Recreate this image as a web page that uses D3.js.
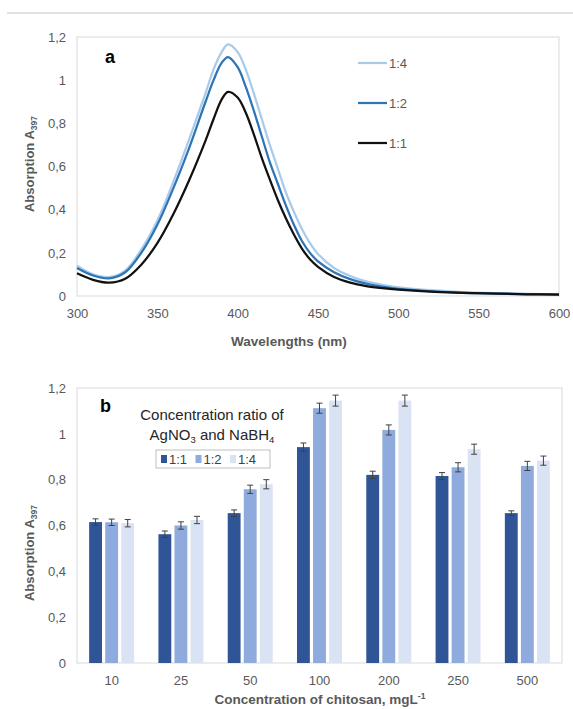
<!DOCTYPE html>
<html>
<head>
<meta charset="utf-8">
<script src="https://cdn.jsdelivr.net/npm/d3@7"></script>
<style>
  body { margin: 0; background: #fff; }
  text { font-family: "Liberation Sans", Arial, sans-serif; }
</style>
</head>
<body>
<div class="chart"></div>
<script>
// ---- data, panel a (spectra) ----
var wavelengths = [300, 310, 320, 330, 340, 350, 360, 370, 380, 385, 390, 394, 400, 405, 410, 415, 420, 425, 430, 435, 440, 445, 450, 460, 470, 480, 490, 500, 520, 540, 560, 580, 600];
var spec14 = [0.14, 0.1, 0.088, 0.118, 0.215, 0.35, 0.53, 0.73, 0.94, 1.05, 1.13, 1.166, 1.13, 1.05, 0.94, 0.82, 0.70, 0.59, 0.48, 0.39, 0.31, 0.245, 0.195, 0.13, 0.093, 0.068, 0.052, 0.04, 0.027, 0.018, 0.013, 0.01, 0.008];
var spec12 = [0.13, 0.095, 0.082, 0.11, 0.2, 0.33, 0.5, 0.69, 0.9, 1.0, 1.08, 1.107, 1.06, 0.97, 0.86, 0.74, 0.62, 0.52, 0.42, 0.33, 0.255, 0.2, 0.16, 0.11, 0.078, 0.057, 0.043, 0.033, 0.022, 0.015, 0.012, 0.009, 0.007];
var spec11 = [0.105, 0.075, 0.062, 0.08, 0.145, 0.245, 0.38, 0.54, 0.72, 0.82, 0.91, 0.946, 0.92, 0.85, 0.75, 0.64, 0.54, 0.445, 0.36, 0.285, 0.22, 0.17, 0.135, 0.088, 0.062, 0.046, 0.036, 0.029, 0.02, 0.015, 0.011, 0.008, 0.006];
var xTicksA = [300, 350, 400, 450, 500, 550, 600];

// ---- data, panel b (bars) ----
var concentrations = ["10", "25", "50", "100", "200", "250", "500"];
var ratios = ["1:1", "1:2", "1:4"];
var bar11 = [0.615, 0.562, 0.654, 0.942, 0.821, 0.816, 0.654];
var bar12 = [0.614, 0.600, 0.758, 1.112, 1.017, 0.854, 0.860];
var bar14 = [0.610, 0.624, 0.780, 1.145, 1.145, 0.933, 0.883];
var err11 = [0.014, 0.014, 0.014, 0.018, 0.016, 0.015, 0.010];
var err12 = [0.014, 0.016, 0.018, 0.022, 0.022, 0.020, 0.020];
var err14 = [0.016, 0.016, 0.020, 0.024, 0.024, 0.022, 0.020];
var yTicks = [0, 0.2, 0.4, 0.6, 0.8, 1, 1.2];

var svgWidth = 573;
var svgHeight = 709;

var svg = d3.select(".chart")
  .append("svg")
  .attr("width", svgWidth)
  .attr("height", svgHeight);

var tickColor = "#595959";
var frameColor = "#d9d9d9";
var fmt = d => String(+d.toFixed(1)).replace(".", ",");

// top separator
svg.append("line")
  .attr("x1", 7).attr("x2", 573)
  .attr("y1", 13).attr("y2", 13)
  .attr("stroke", "#d9d9d9")
  .attr("stroke-width", 1.5);

function styleAxis(g) {
  g.select(".domain").remove();
  g.selectAll("text")
    .attr("fill", tickColor)
    .style("font-size", "13px")
    .style("font-family", "'Liberation Sans', Arial, sans-serif");
}

// ================= panel a =================
var a = { left: 77, right: 559, top: 37, bottom: 296 };

var xA = d3.scaleLinear().domain([300, 600]).range([a.left, a.right]);
var yA = d3.scaleLinear().domain([0, 1.2]).range([a.bottom, a.top]);

svg.append("rect")
  .attr("x", a.left).attr("y", a.top)
  .attr("width", a.right - a.left).attr("height", a.bottom - a.top)
  .attr("fill", "none").attr("stroke", frameColor).attr("stroke-width", 1);

svg.append("g")
  .attr("transform", `translate(0, ${a.bottom})`)
  .call(d3.axisBottom(xA).tickValues(xTicksA).tickSize(0).tickPadding(13))
  .call(styleAxis);

svg.append("g")
  .attr("transform", `translate(${a.left}, 0)`)
  .call(d3.axisLeft(yA).tickValues(yTicks).tickFormat(fmt).tickSize(0).tickPadding(11))
  .call(styleAxis);

var specSeries = [
  { name: "1:4", values: spec14, color: "#a9cbea" },
  { name: "1:2", values: spec12, color: "#2e75b6" },
  { name: "1:1", values: spec11, color: "#111111" }
];

var line = d3.line()
  .x((d, i) => xA(wavelengths[i]))
  .y(d => yA(d))
  .curve(d3.curveCatmullRom.alpha(0.5));

// draw back to front: 1:4 under, black on top
specSeries.forEach(function(s) {
  svg.append("path")
    .datum(s.values)
    .attr("fill", "none")
    .attr("stroke", s.color)
    .attr("stroke-width", 2.25)
    .attr("d", line);
});

// legend a
specSeries.forEach(function(s, i) {
  var ly = 63 + i * 40;
  svg.append("line")
    .attr("x1", 358).attr("x2", 387)
    .attr("y1", ly).attr("y2", ly)
    .attr("stroke", s.color).attr("stroke-width", 2.25);
  svg.append("text")
    .attr("x", 389).attr("y", ly + 4.5)
    .attr("fill", tickColor)
    .style("font-size", "13px")
    .text(s.name);
});

svg.append("text")
  .attr("x", 105).attr("y", 63)
  .style("font-size", "18px").style("font-weight", "bold")
  .attr("fill", "#000")
  .text("a");

svg.append("text")
  .attr("x", 289).attr("y", 346)
  .attr("text-anchor", "middle")
  .attr("fill", tickColor)
  .style("font-size", "13.5px").style("font-weight", "bold")
  .text("Wavelengths (nm)");

function yLabel(cx, cy) {
  var t = svg.append("text")
    .attr("transform", `translate(${cx}, ${cy}) rotate(-90)`)
    .attr("text-anchor", "middle")
    .attr("fill", tickColor)
    .style("font-size", "13px").style("font-weight", "bold");
  t.append("tspan").text("Absorption A");
  t.append("tspan").attr("dy", 3).style("font-size", "8.5px").text("397");
}
yLabel(34, 164);

// ================= panel b =================
var b = { left: 77, right: 562, top: 388, bottom: 663 };

var x0 = d3.scaleBand().domain(concentrations).range([b.left, b.right]).paddingInner(0).paddingOuter(0);
var x1 = d3.scaleBand().domain(ratios).range([-22.5, 22.5]).paddingInner(0.2);
var yB = d3.scaleLinear().domain([0, 1.2]).range([b.bottom, b.top]);

svg.append("rect")
  .attr("x", b.left).attr("y", b.top)
  .attr("width", b.right - b.left).attr("height", b.bottom - b.top)
  .attr("fill", "none").attr("stroke", frameColor).attr("stroke-width", 1);

svg.append("g")
  .attr("transform", `translate(0, ${b.bottom})`)
  .call(d3.axisBottom(x0).tickSize(0).tickPadding(13))
  .call(styleAxis);

svg.append("g")
  .attr("transform", `translate(${b.left}, 0)`)
  .call(d3.axisLeft(yB).tickValues(yTicks).tickFormat(fmt).tickSize(0).tickPadding(11))
  .call(styleAxis);

var barSeries = [
  { name: "1:1", values: bar11, err: err11, color: "#2f5597" },
  { name: "1:2", values: bar12, err: err12, color: "#8faadc" },
  { name: "1:4", values: bar14, err: err14, color: "#dae3f3" }
];

barSeries.forEach(function(s) {
  var g = svg.append("g");
  var rows = concentrations.map((c, i) => ({ c: c, v: s.values[i], e: s.err[i] }));
  var cx = d => x0(d.c) + x0.bandwidth() / 2 + x1(s.name) + x1.bandwidth() / 2;

  g.selectAll("rect")
    .data(rows)
    .enter()
    .append("rect")
    .attr("x", d => cx(d) - x1.bandwidth() / 2)
    .attr("y", d => yB(d.v))
    .attr("width", x1.bandwidth())
    .attr("height", d => b.bottom - yB(d.v))
    .attr("fill", s.color);

  var eb = g.selectAll("g.err")
    .data(rows)
    .enter()
    .append("g")
    .attr("stroke", "#404040")
    .attr("stroke-width", 1);
  eb.append("line")
    .attr("x1", cx).attr("x2", cx)
    .attr("y1", d => yB(d.v + d.e)).attr("y2", d => yB(d.v - d.e));
  eb.append("line")
    .attr("x1", d => cx(d) - 3).attr("x2", d => cx(d) + 3)
    .attr("y1", d => yB(d.v + d.e)).attr("y2", d => yB(d.v + d.e));
  eb.append("line")
    .attr("x1", d => cx(d) - 3).attr("x2", d => cx(d) + 3)
    .attr("y1", d => yB(d.v - d.e)).attr("y2", d => yB(d.v - d.e));
});

svg.append("text")
  .attr("x", 100).attr("y", 412)
  .style("font-size", "18px").style("font-weight", "bold")
  .attr("fill", "#000")
  .text("b");

// legend b
svg.append("text")
  .attr("x", 212).attr("y", 420)
  .attr("text-anchor", "middle")
  .attr("fill", "#262626")
  .style("font-size", "15px")
  .text("Concentration ratio of");

var t2 = svg.append("text")
  .attr("x", 212).attr("y", 440)
  .attr("text-anchor", "middle")
  .attr("fill", "#262626")
  .style("font-size", "15px");
t2.append("tspan").text("AgNO");
t2.append("tspan").attr("dy", 3).style("font-size", "9.5px").text("3");
t2.append("tspan").attr("dy", -3).text(" and NaBH");
t2.append("tspan").attr("dy", 3).style("font-size", "9.5px").text("4");

svg.append("rect")
  .attr("x", 156).attr("y", 450)
  .attr("width", 114).attr("height", 18)
  .attr("fill", "#fff")
  .attr("stroke", "#bfbfbf").attr("stroke-width", 1);

barSeries.forEach(function(s, i) {
  var lx = 161 + i * 34.5;
  svg.append("rect")
    .attr("x", lx).attr("y", 455)
    .attr("width", 6).attr("height", 8)
    .attr("fill", s.color);
  svg.append("text")
    .attr("x", lx + 8).attr("y", 464)
    .attr("fill", "#404040")
    .style("font-size", "13px")
    .text(s.name);
});

svg.append("text")
  .attr("x", 320).attr("y", 704)
  .attr("text-anchor", "middle")
  .attr("fill", tickColor)
  .style("font-size", "13.5px").style("font-weight", "bold")
  .call(t => {
    t.append("tspan").text("Concentration of chitosan, mgL");
    t.append("tspan").attr("dy", -5).style("font-size", "8.5px").text("-1");
  });

yLabel(34, 553);
</script>
</body>
</html>
